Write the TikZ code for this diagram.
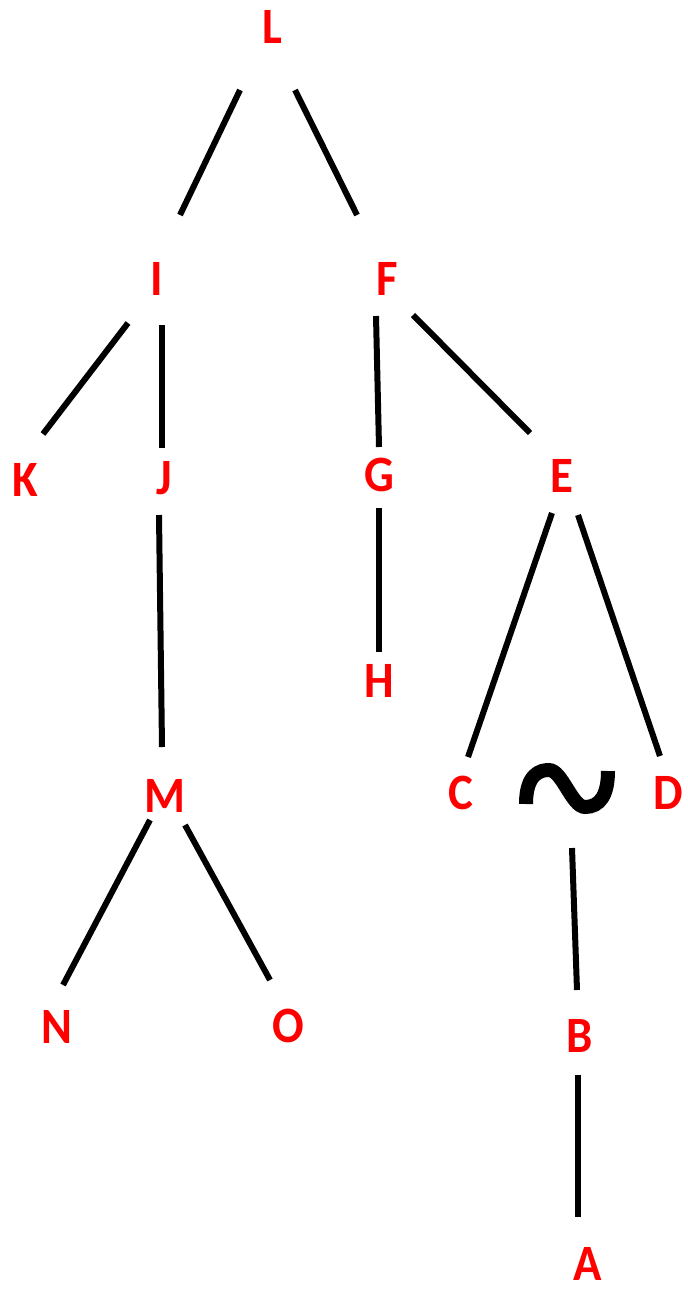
\documentclass[tikz,border=0pt]{standalone}
\usepackage{fontspec}
\setmainfont{Carlito}
\begin{document}
\begin{tikzpicture}[x=0.02cm,y=-0.02cm,
  lbl/.style={inner sep=0pt, anchor=base, text=red, font=\fontsize{29}{29}\selectfont\bfseries, xscale=0.92},
  edge/.style={draw=black, line width=0.12cm},
  tildestroke/.style={draw=black, line width=0.28cm}]
\useasboundingbox (0,0) rectangle (687,1289);
\node[lbl] (L) at (272,43) {L};
\node[lbl] (I) at (157,295) {I};
\node[lbl] (F) at (387,295) {F};
\node[lbl] (K) at (25,496) {K};
\node[lbl] (J) at (164,494) {J};
\node[lbl] (G) at (379,491) {G};
\node[lbl] (E) at (562,492) {E};
\node[lbl] (H) at (379,697) {H};
\node[lbl] (M) at (165,812) {M};
\node[lbl] (C) at (461,809) {C};
\node[lbl] (D) at (668,809) {D};
\node[lbl] (N) at (57,1043) {N};
\node[lbl] (O) at (288,1042) {O};
\node[lbl] (B) at (580,1052) {B};
\node[lbl] (A) at (588,1280) {A};
\coordinate (T) at (567,788);
\begin{scope}[shift={(T)}]
  \path[tildestroke] (-41,16) .. controls (-41,-14) and (-27,-18) .. (-18,-18)
    .. controls (-5,-18) and (5,19) .. (18,19)
    .. controls (33,19) and (41,7) .. (41,-17);
\end{scope}
\path[edge] ([shift={(-32,47)}]L.base) -- ([shift={(23,-80)}]I.base);
\path[edge] ([shift={(23,47)}]L.base) -- ([shift={(-30,-80)}]F.base);
\path[edge] ([shift={(-29,28)}]I.base) -- ([shift={(18,-62)}]K.base);
\path[edge] ([shift={(5,30)}]I.base) -- ([shift={(-2,-46)}]J.base);
\path[edge] ([shift={(-11,21)}]F.base) -- ([shift={(0,-44)}]G.base);
\path[edge] ([shift={(26,20)}]F.base) -- ([shift={(-32,-59)}]E.base);
\path[edge] ([shift={(-5,21)}]J.base) -- ([shift={(-3,-65)}]M.base);
\path[edge] ([shift={(0,17)}]G.base) -- ([shift={(0,-45)}]H.base);
\path[edge] ([shift={(-10,21)}]E.base) -- ([shift={(7,-52)}]C.base);
\path[edge] ([shift={(16,23)}]E.base) -- ([shift={(-8,-53)}]D.base);
\path[edge] ([shift={(-15,8)}]M.base) -- ([shift={(6,-58)}]N.base);
\path[edge] ([shift={(20,13)}]M.base) -- ([shift={(-18,-62)}]O.base);
\path[edge] ([shift={(5,60)}]T) -- ([shift={(-3,-62)}]B.base);
\path[edge] ([shift={(-2,23)}]B.base) -- ([shift={(-10,-63)}]A.base);
\end{tikzpicture}
\end{document}
